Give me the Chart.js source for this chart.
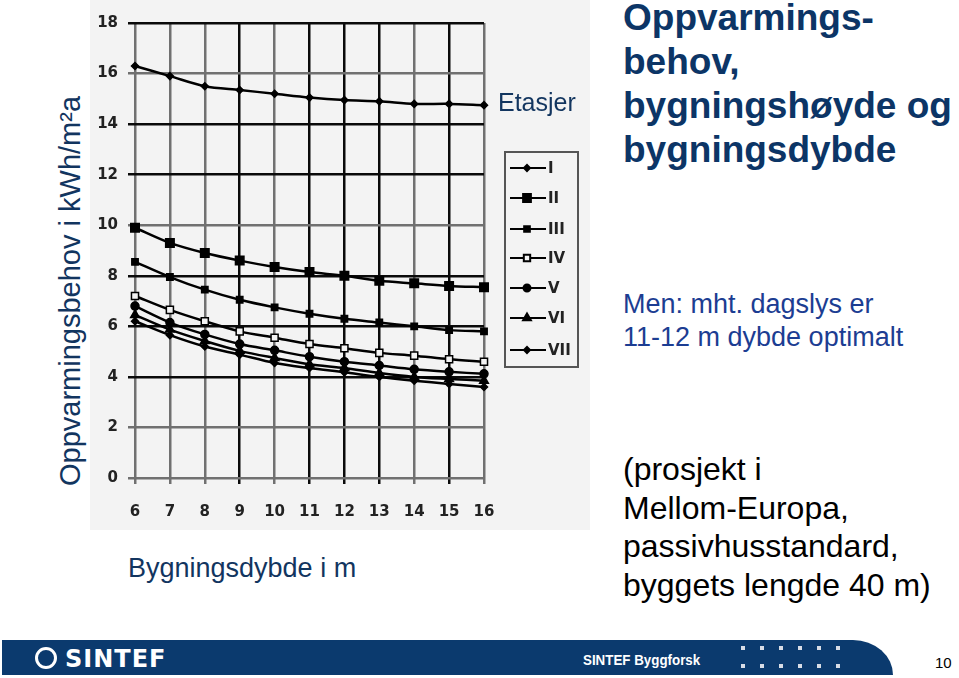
<!DOCTYPE html>
<html>
<head>
<meta charset="utf-8">
<script src="https://cdn.jsdelivr.net/npm/chart.js@4"></script>
<style>
  html, body { margin: 0; padding: 0; background: #fff; }
  body { width: 959px; height: 678px; position: relative; overflow: hidden; font-family: Arial, "Liberation Sans", sans-serif; }
  .abs { position: absolute; white-space: nowrap; }
  #wrap { position: absolute; left: 90px; top: 0; width: 500px; height: 530px; background: #f3f3f3; }
  #ytitle { left: 70px; top: 291px; transform: translate(-50%, -50%) rotate(-90deg); font-size: 29px; color: #12355f; }
  #xtitle { left: 128px; top: 553px; font-size: 27px; color: #12355f; }
  #etasjer { left: 498px; top: 88px; font-size: 25px; color: #12355f; }
  #title { left: 623px; top: -4px; font-size: 37px; font-weight: bold; color: #0c3566; line-height: 44px; }
  #men { left: 623px; top: 288px; font-size: 27px; color: #1c3d92; line-height: 33px; }
  #proj { left: 623px; top: 450px; font-size: 32px; color: #000; line-height: 38.5px; }
  #footer { position: absolute; left: 2px; top: 640px; width: 891px; height: 35px; background: #0b3a6e; border-top-right-radius: 40px 35px; }
  #logo { left: 35px; top: 645px; color: #fff; font-weight: 900; font-size: 24px; font-family: "DejaVu Sans", Arial, sans-serif; letter-spacing: 1px; }
  #logo span { display: inline-block; width: 16px; height: 16px; border: 3px solid #fff; border-radius: 50%; vertical-align: -2px; margin-right: 8px; }
  #byggforsk { left: 583px; top: 651px; color: #fff; font-weight: bold; font-size: 15px; transform: scaleX(0.89); transform-origin: left center; }
  #page { left: 935px; top: 654px; color: #000; font-size: 15px; }
  .dot { position: absolute; width: 4px; height: 4px; background: #d8dde6; }
</style>
</head>
<body>
<div id="wrap"><canvas id="chart" width="500" height="530"></canvas></div>
<div class="abs" id="ytitle">Oppvarmingsbehov i kWh/m²a</div>
<div class="abs" id="xtitle">Bygningsdybde i m</div>
<div class="abs" id="etasjer">Etasjer</div>
<div class="abs" id="title">Oppvarmings-<br>behov,<br>bygningshøyde og<br>bygningsdybde</div>
<div class="abs" id="men">Men: mht. dagslys er<br>11-12 m dybde optimalt</div>
<div class="abs" id="proj">(prosjekt i<br>Mellom-Europa,<br>passivhusstandard,<br>byggets lengde 40 m)</div>
<div id="footer"></div>
<div class="abs" id="logo"><span></span>SINTEF</div>
<div class="abs" id="byggforsk">SINTEF Byggforsk</div>
<div class="abs" id="page">10</div>
<div id="dots"></div>
<script>
// bygningsdybde (m)
const depths = ["6", "7", "8", "9", "10", "11", "12", "13", "14", "15", "16"];
const floorNames = ["I", "II", "III", "IV", "V", "VI", "VII"];

// oppvarmingsbehov kWh/m2a per antall etasjer
const etasje1 = [16.3, 15.9, 15.5, 15.35, 15.2, 15.05, 14.95, 14.9, 14.8, 14.8, 14.75];
const etasje2 = [9.9, 9.3, 8.9, 8.6, 8.35, 8.15, 8.0, 7.8, 7.7, 7.6, 7.55];
const etasje3 = [8.55, 7.95, 7.45, 7.05, 6.75, 6.5, 6.3, 6.15, 6.0, 5.85, 5.8];
const etasje4 = [7.2, 6.65, 6.2, 5.8, 5.55, 5.3, 5.13, 4.95, 4.84, 4.7, 4.6];
const etasje5 = [6.8, 6.15, 5.68, 5.3, 5.05, 4.8, 4.6, 4.45, 4.3, 4.2, 4.12];
const etasje6 = [6.45, 5.87, 5.42, 5.03, 4.75, 4.5, 4.35, 4.15, 4.0, 3.92, 3.85];
const etasje7 = [6.2, 5.65, 5.2, 4.88, 4.55, 4.35, 4.18, 4.0, 3.85, 3.72, 3.6];

const yTicks = [0, 2, 4, 6, 8, 10, 12, 14, 16, 18];

const series = [etasje1, etasje2, etasje3, etasje4, etasje5, etasje6, etasje7];
const markers = [
    { style: "rectRot", r: 3.5, fill: "#000" },
    { style: "rect", r: 6, fill: "#000" },
    { style: "rect", r: 4.5, fill: "#000" },
    { style: "rect", r: 5, fill: "#f3f3f3" },
    { style: "circle", r: 4, fill: "#000" },
    { style: "triangle", r: 5, fill: "#000" },
    { style: "rectRot", r: 3.5, fill: "#000" }
];

const datasets = series.map((d, i) => ({
    label: floorNames[i],
    data: d,
    borderColor: "#000",
    borderWidth: 2.5,
    backgroundColor: markers[i].fill,
    pointStyle: markers[i].style,
    pointRadius: markers[i].r,
    pointBorderColor: "#000",
    pointBorderWidth: 1.5,
    tension: 0.3
}));

const greyY = [16, 10, 2, 0];
const greyX = [0, 1, 2, 4, 8, 10];

// legend box like the scanned original
const boxLegend = {
    id: "boxLegend",
    afterDraw(chart) {
        const ctx = chart.ctx;
        ctx.save();
        ctx.strokeStyle = "#555";
        ctx.lineWidth = 2;
        ctx.strokeRect(415, 152, 73, 215);
        const rows = [168, 198, 229, 258, 288, 318, 350];
        ctx.font = "bold 15px 'DejaVu Sans', Arial";
        ctx.textBaseline = "middle";
        chart.data.datasets.forEach((ds, i) => {
            const y = rows[i];
            ctx.strokeStyle = "#000";
            ctx.lineWidth = 2;
            ctx.beginPath();
            ctx.moveTo(420, y);
            ctx.lineTo(456, y);
            ctx.stroke();
            ctx.fillStyle = ds.backgroundColor;
            ctx.strokeStyle = "#000";
            ctx.beginPath();
            Chart.helpers.drawPoint(ctx, {
                pointStyle: ds.pointStyle,
                radius: Math.max(ds.pointRadius - 0.5, 3),
                borderWidth: 1.5
            }, 437, y);
            ctx.fillStyle = "#222";
            ctx.fillText(ds.label, 458, y + 1);
        });
        ctx.restore();
    }
};

new Chart(document.getElementById("chart"), {
    type: "line",
    data: { labels: depths, datasets: datasets },
    options: {
        responsive: false,
        animation: false,
        devicePixelRatio: 1,
        layout: { padding: { left: 0, right: 106, top: 23, bottom: 0 } },
        plugins: { legend: { display: false }, tooltip: { enabled: false } },
        scales: {
            x: {
                type: "category",
                offset: false,
                border: { display: false },
                grid: {
                    color: c => greyX.includes(c.index) ? "#707070" : "#0a0a0a",
                    lineWidth: 2.5,
                    tickLength: 6
                },
                ticks: { color: "#222", padding: 19, maxRotation: 0, font: { family: "DejaVu Sans", size: 15, weight: "bold" } },
                afterFit: s => { s.height = 52; }
            },
            y: {
                min: 0,
                max: 18,
                afterBuildTicks: s => { s.ticks = yTicks.map(v => ({ value: v })); },
                border: { display: false },
                grid: {
                    color: c => greyY.includes(c.tick.value) ? "#707070" : "#0a0a0a",
                    lineWidth: 2.5,
                    tickLength: 7
                },
                ticks: { color: "#222", padding: 10, font: { family: "DejaVu Sans", size: 15, weight: "bold" } },
                afterFit: s => { s.width = 45; }
            }
        }
    },
    plugins: [boxLegend]
});

// footer dots
const dots = document.getElementById("dots");
[646, 664].forEach(y => {
    for (let k = 0; k < 6; k++) {
        const d = document.createElement("div");
        d.className = "dot";
        d.style.left = (741 + k * 19) + "px";
        d.style.top = y + "px";
        dots.appendChild(d);
    }
});
</script>
</body>
</html>
